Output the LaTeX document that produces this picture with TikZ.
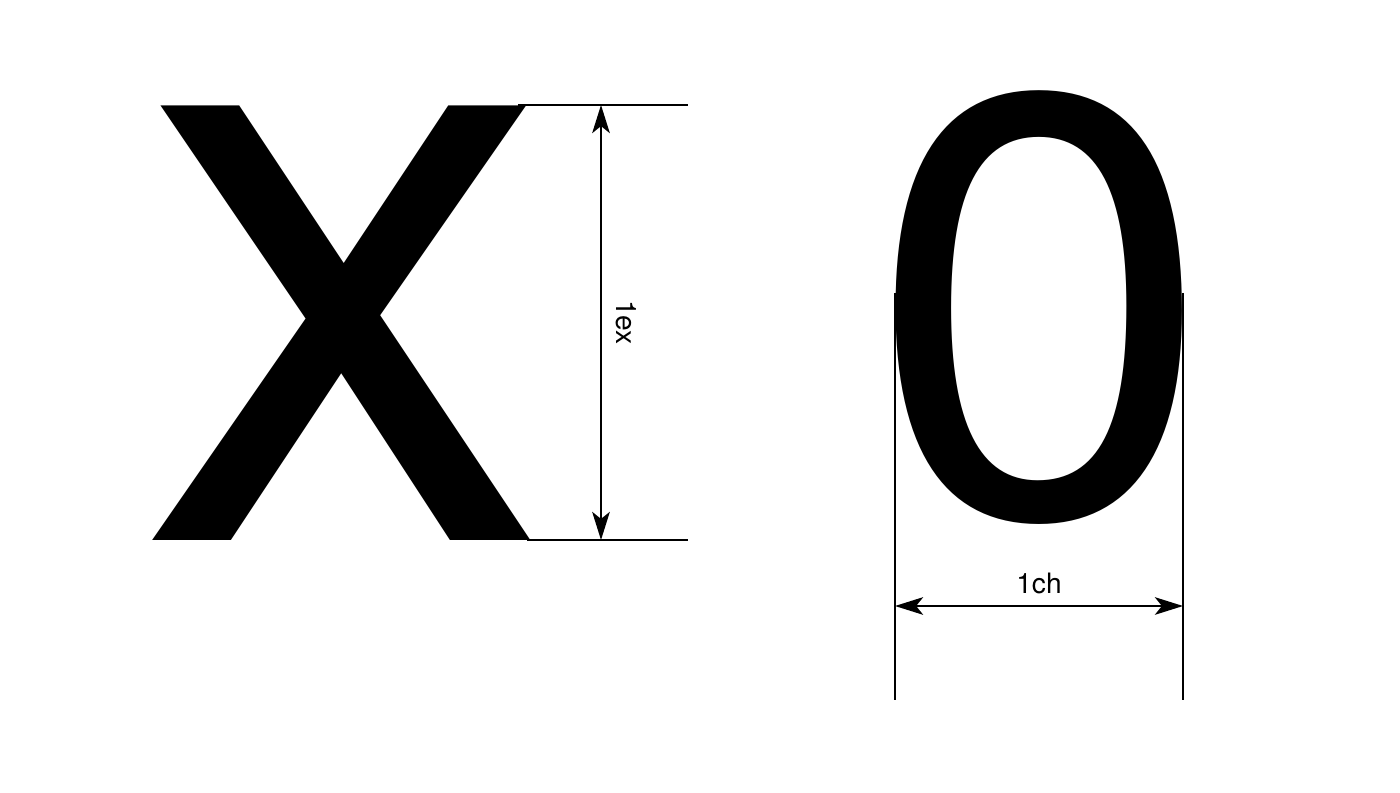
\documentclass[tikz,border=0pt]{standalone}
\usepackage{fontspec}
\setmainfont{TeX Gyre Heros}
\usepackage{tikz}
\usetikzlibrary{arrows.meta,calc}

\begin{document}
\begin{tikzpicture}[
  glyph/.style={inner sep=0pt, anchor=base},
  guide/.style={line width=1.2pt, black},
  dimarrow/.style={{Stealth[length=16pt, width=10pt, inset=4pt]}-{Stealth[length=16pt, width=10pt, inset=4pt]}, line width=1.2pt, black},
  dimlabel/.style={font=\fontsize{16pt}{18pt}\selectfont, inner sep=0pt}]
\useasboundingbox (0,0) rectangle (28,15.84);

% the two glyphs
\node[glyph, font=\fontsize{472pt}{472pt}\selectfont] (glyphX) at (6.92,5.04) {x};
\node[glyph, font=\fontsize{341pt}{341pt}\selectfont, xscale=1.03] (glyphZero) at (20.83,5.53) {0};

% 1ex
\coordinate (exTopL) at (10.36,13.74);
\coordinate (exTopR) at (13.76,13.74);
\coordinate (exBotL) at (10.54,5.04);
\coordinate (exBotR) at (13.76,5.04);
\coordinate (exTop) at (12.02,13.74);
\coordinate (exBot) at (12.02,5.04);
\draw[guide] (exTopL) -- (exTopR);
\draw[guide] (exBotL) -- (exBotR);
\draw[dimarrow] (exTop) -- node[dimlabel, midway, rotate=-90, anchor=south, inner sep=8pt] (exLabel) {1ex} (exBot);

% 1ch
\coordinate (chLeftTop) at (17.9,9.98);
\coordinate (chLeftBot) at (17.9,1.84);
\coordinate (chRightTop) at (23.66,9.98);
\coordinate (chRightBot) at (23.66,1.84);
\coordinate (chLeft) at (17.9,3.72);
\coordinate (chRight) at (23.66,3.72);
\draw[guide] (chLeftTop) -- (chLeftBot);
\draw[guide] (chRightTop) -- (chRightBot);
\draw[dimarrow] (chLeft) -- node[dimlabel, midway, above=6pt] (chLabel) {1ch} (chRight);
\end{tikzpicture}
\end{document}
